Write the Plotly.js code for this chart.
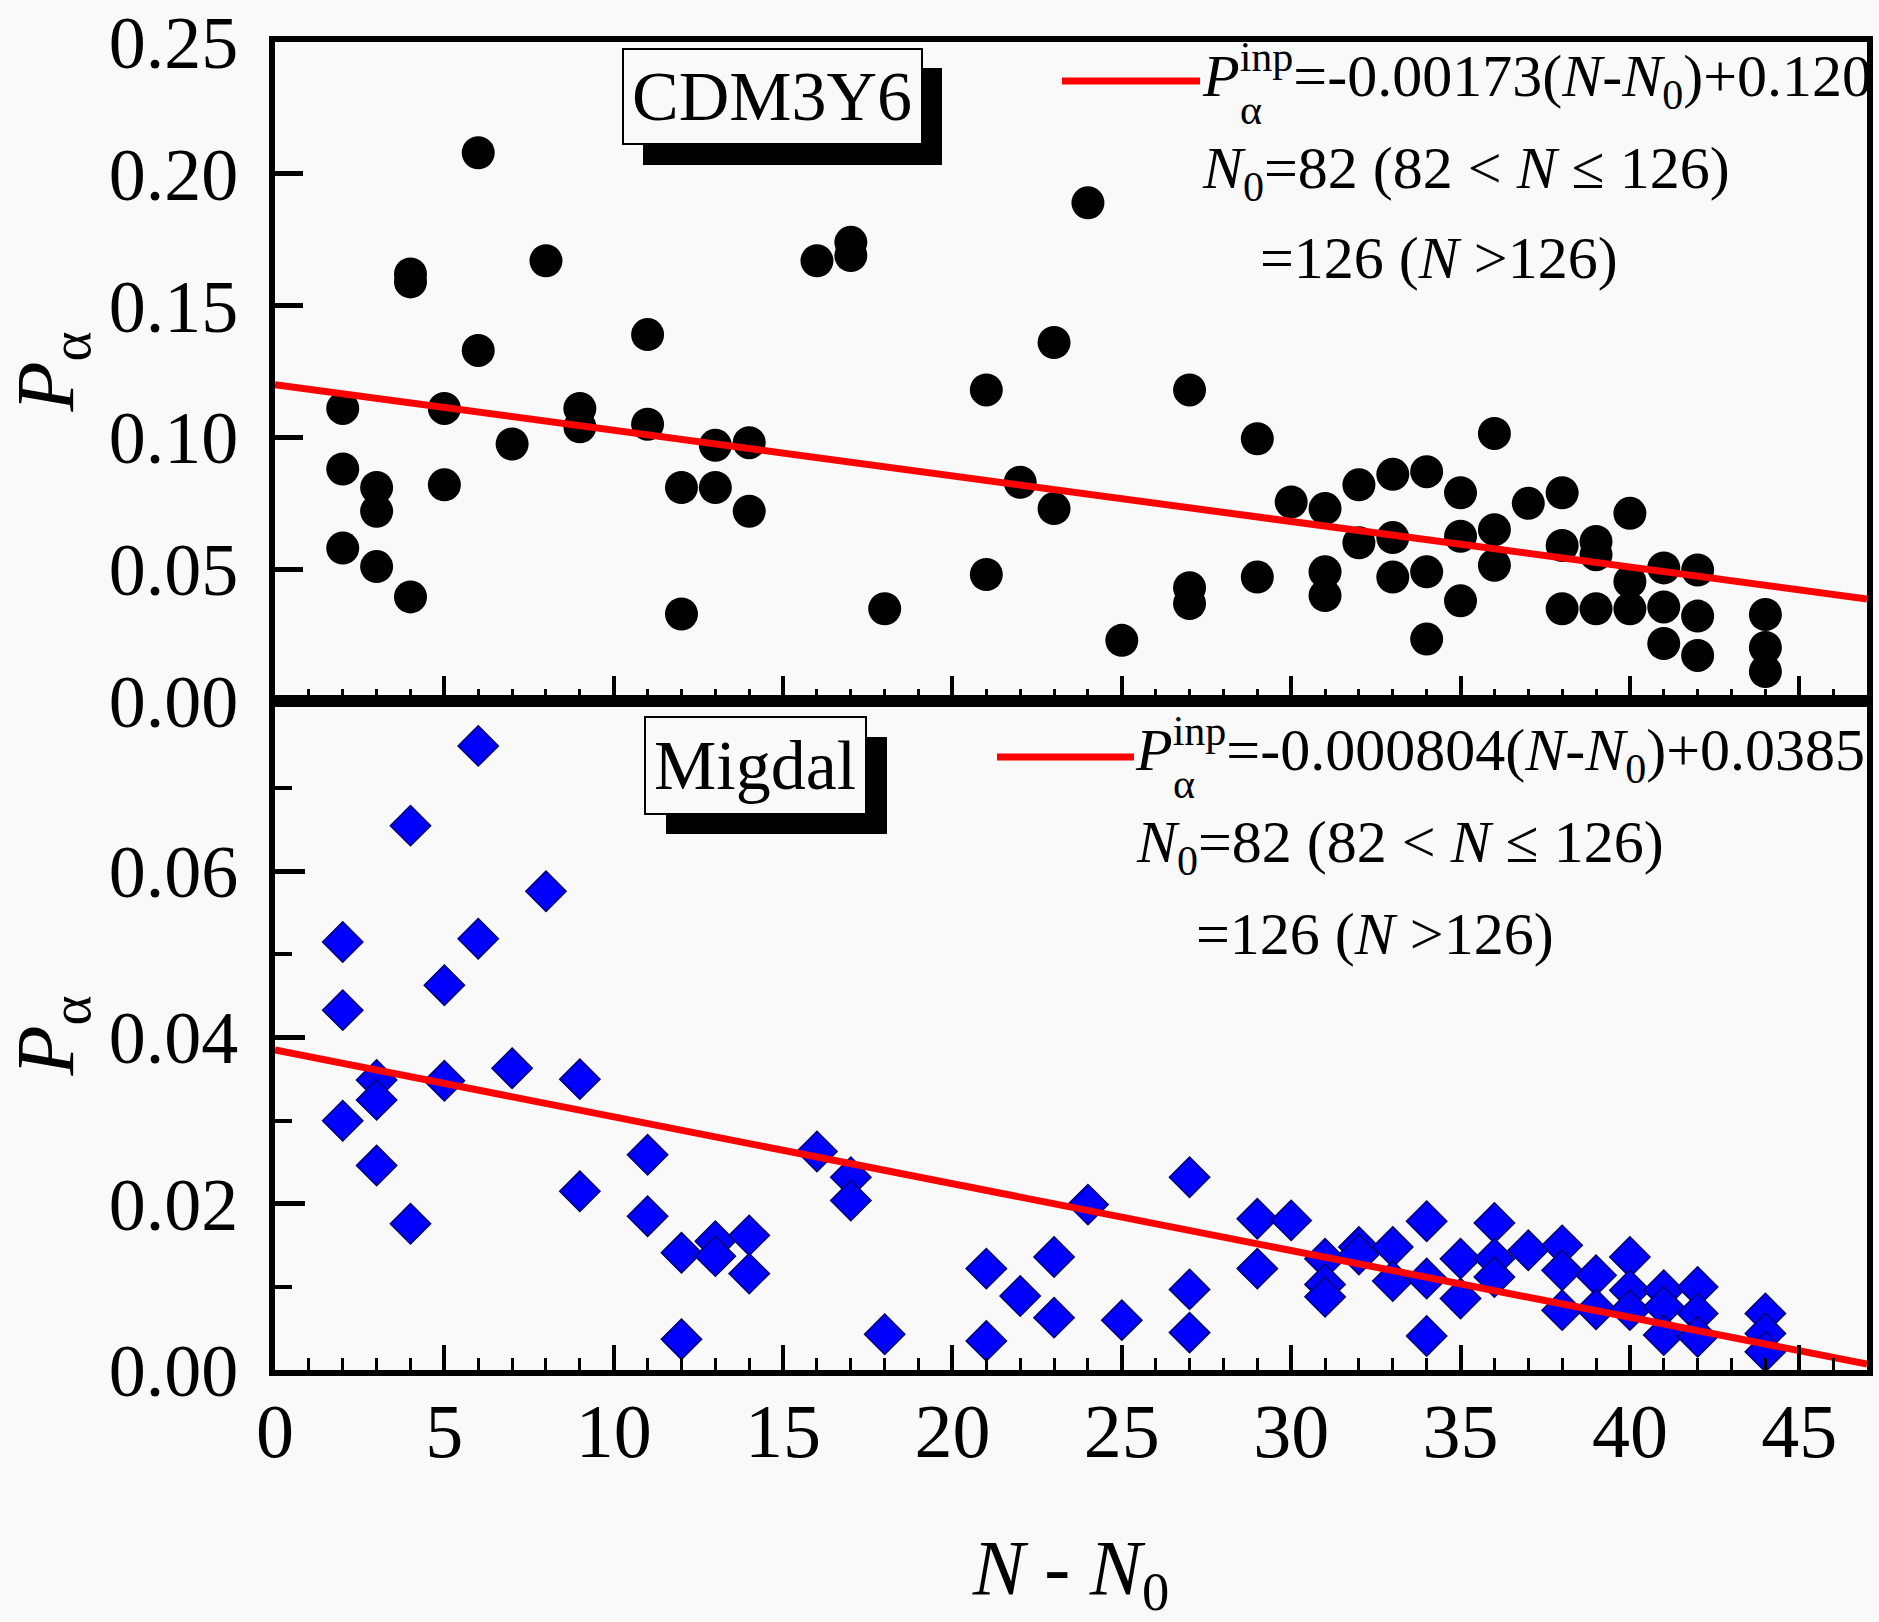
<!DOCTYPE html>
<html>
<head>
<meta charset="utf-8">
<script src="https://cdn.plot.ly/plotly-3.0.1.min.js"></script>
<style>
  html, body { margin: 0; padding: 0; background: #f9f9f9; }
  #chart { width: 1879px; height: 1622px; }
</style>
</head>
<body>
<div id="chart"></div>
<script>
// ---------------- data ----------------
// CDM3Y6 panel (top)
const cdmX = [2,2,2, 3,3,3, 4,4,4, 5,5, 6,6, 7, 8, 9,9, 11,11, 12,12, 13,13, 14,14, 16, 17,17, 18,
              21,21, 22, 23,23, 24, 25, 27,27,27, 29,29, 30, 31,31,31, 32,32, 33,33,33, 34,34,34,
              35,35,35, 36,36,36, 37, 38,38,38, 39,39,39, 40,40,40, 41,41,41, 42,42,42, 44,44,44];
const cdmY = [0.111,0.088,0.058, 0.081,0.072,0.051, 0.162,0.159,0.0395, 0.111,0.082, 0.208,0.133,
              0.0975, 0.167, 0.111,0.104, 0.139,0.105, 0.081,0.033, 0.097,0.081, 0.098,0.072, 0.167,
              0.174,0.169, 0.035, 0.118,0.048, 0.083, 0.136,0.073, 0.189, 0.023, 0.118,0.043,0.037,
              0.0995,0.047, 0.0755, 0.073,0.049,0.040, 0.082,0.060, 0.086,0.062,0.047, 0.087,0.049,0.0235,
              0.079,0.0625,0.038, 0.1015,0.065,0.0515, 0.075, 0.079,0.059,0.035, 0.0605,0.0555,0.035,
              0.0712,0.0453,0.035, 0.0505,0.0357,0.0218, 0.0497,0.0322,0.0173, 0.0328,0.0203,0.0112];
// Migdal panel (bottom)
const migX = [2,2,2, 3,3,3, 4,4, 5,5, 6,6, 7, 8, 9,9, 11,11, 12,12, 13,13, 14,14, 16, 17,17, 18,
              21,21, 22, 23,23, 24, 25, 27,27,27, 29,29, 30, 31,31,31, 32,32, 33,33, 34,34,34,
              35,35, 36,36,36, 37, 38,38,38, 39,39, 40,40,40, 41,41,41, 42,42,42, 44,44,44];
const migY = [0.0515,0.0433,0.0300, 0.0349,0.0325,0.0246, 0.0655,0.0176, 0.0463,0.0348, 0.0751,0.0519,
              0.0363, 0.0576, 0.0350,0.0215, 0.0259,0.0185, 0.0141,0.0037, 0.0155,0.0137, 0.0162,0.0116,
              0.0263, 0.0232,0.0204, 0.0043, 0.0122,0.0035, 0.0089, 0.0136,0.0063, 0.0199, 0.0060,
              0.0232,0.0097,0.0045, 0.0182,0.0122, 0.0180, 0.0134,0.0103,0.0088, 0.0148,0.0139,
              0.0148,0.0107, 0.0179,0.0110,0.0041, 0.0134,0.0086, 0.0177,0.0134,0.0112, 0.0144,
              0.0150,0.0120,0.0072, 0.0114,0.0073, 0.0136,0.0096,0.0072, 0.0096,0.0076,0.0042,
              0.0100,0.0068,0.0040, 0.0068,0.0044,0.0022];
// fitted lines (end points)
const fitX = [0, 47];
const cdmFitY = [0.120, 0.0387];
const migFitY = [0.0385, 0.00071];
// tick labels
const topYTicks = [0, 0.05, 0.10, 0.15, 0.20, 0.25];
const botYTicks = [0, 0.02, 0.04, 0.06];
const botYMinor = [0.01, 0.03, 0.05, 0.07];
// texts
const cdmLabel = 'CDM3Y6';
const migLabel = 'Migdal';
const cdmEq = '<i>P</i><sup>inp</sup>=-0.00173(<i>N</i>-<i>N</i><sub>0</sub>)+0.120';
const migEq = '<i>P</i><sup>inp</sup>=-0.000804(<i>N</i>-<i>N</i><sub>0</sub>)+0.0385';
const n0Line1 = '<i>N</i><sub>0</sub>=82 (82 &lt; <i>N</i> ≤ 126)';
const n0Line2 = '=126 (<i>N</i> &gt;126)';

// ---------------- geometry helpers ----------------
const W = 1879, H = 1622, L = 275, R = 12, T = 42, B = 252;
const PW = W - L - R, PH = H - T - B;
const px = v => (v - L) / PW;
const py = v => (H - B - v) / PH;
const MID = py(701);   // boundary between the two panels
const FONT = 'Liberation Serif, Times New Roman, serif';

const traces = [
  { x: cdmX, y: cdmY, xaxis: 'x', yaxis: 'y', type: 'scatter', mode: 'markers',
    marker: { symbol: 'circle', size: 33, color: '#000000', line: { width: 0 } }, showlegend: false },
  { x: fitX, y: cdmFitY, xaxis: 'x', yaxis: 'y', type: 'scatter', mode: 'lines',
    line: { color: '#ff0000', width: 7 }, showlegend: false },
  { x: migX, y: migY, xaxis: 'x2', yaxis: 'y2', type: 'scatter', mode: 'markers',
    marker: { symbol: 'diamond', size: 31, color: '#0000ff', line: { width: 1.5, color: '#000070' } }, showlegend: false },
  { x: fitX, y: migFitY, xaxis: 'x2', yaxis: 'y2', type: 'scatter', mode: 'lines',
    line: { color: '#ff0000', width: 7 }, showlegend: false }
];

const xCommon = {
  range: [0, 47], tick0: 0, dtick: 5, ticks: 'inside', ticklen: 25, tickwidth: 4, tickcolor: '#000',
  minor: { dtick: 1, tick0: 0, ticks: 'inside', ticklen: 12, tickwidth: 3, tickcolor: '#000' },
  showline: true, linewidth: 6, linecolor: '#000', mirror: true,
  showgrid: false, zeroline: false, fixedrange: true
};

const layout = {
  width: W, height: H,
  margin: { l: L, r: R, t: T, b: B, pad: 0 },
  paper_bgcolor: '#f9f9f9', plot_bgcolor: '#f9f9f9',
  font: { family: FONT, color: '#000', size: 60 },
  showlegend: false,
  xaxis: Object.assign({}, xCommon, { anchor: 'y', showticklabels: false }),
  xaxis2: Object.assign({}, xCommon, {
    anchor: 'y2', showticklabels: true, tickfont: { family: FONT, size: 76 }, ticklabelstandoff: -10,
    ticklabeloverflow: 'allow',
    title: { text: '<i>N</i> - <i>N</i><sub>0</sub>', font: { family: FONT, size: 78 }, standoff: 84 }
  }),
  yaxis: {
    domain: [MID, 1], anchor: 'x', range: [0, 0.25], tickmode: 'array', tickvals: topYTicks,
    tickformat: '.2f', ticks: 'inside', ticklen: 28, tickwidth: 5, tickcolor: '#000',
    tickfont: { family: FONT, size: 74 }, ticklabelstandoff: 16, ticklabeloverflow: 'allow',
    showline: true, linewidth: 6, linecolor: '#000', mirror: true, showgrid: false, zeroline: false,
    title: { text: '<i>P</i><sub>α</sub>', font: { family: FONT, size: 82 }, standoff: 58 }
  },
  yaxis2: {
    domain: [0, MID], anchor: 'x2', range: [0, 0.0805], tickmode: 'array', tickvals: botYTicks,
    tickformat: '.2f', ticks: 'inside', ticklen: 30, tickwidth: 5, tickcolor: '#000',
    minor: { tickmode: 'array', tickvals: botYMinor, ticks: 'inside', ticklen: 17, tickwidth: 4, tickcolor: '#000' },
    tickfont: { family: FONT, size: 74 }, ticklabelstandoff: 16, ticklabeloverflow: 'allow',
    showline: true, linewidth: 6, linecolor: '#000', mirror: true, showgrid: false, zeroline: false,
    title: { text: '<i>P</i><sub>α</sub>', font: { family: FONT, size: 82 }, standoff: 58 }
  },
  shapes: [
    // CDM3Y6 label box with shadow
    { type: 'rect', xref: 'paper', yref: 'paper', x0: px(643), x1: px(942), y0: py(165), y1: py(68),
      fillcolor: '#000', line: { width: 0 }, layer: 'above' },
    { type: 'rect', xref: 'paper', yref: 'paper', x0: px(623), x1: px(922), y0: py(144), y1: py(49),
      fillcolor: '#f9f9f9', line: { width: 2, color: '#000' }, layer: 'above' },
    // Migdal label box with shadow
    { type: 'rect', xref: 'paper', yref: 'paper', x0: px(666), x1: px(887), y0: py(834), y1: py(737),
      fillcolor: '#000', line: { width: 0 }, layer: 'above' },
    { type: 'rect', xref: 'paper', yref: 'paper', x0: px(645), x1: px(866), y0: py(814), y1: py(717),
      fillcolor: '#f9f9f9', line: { width: 2, color: '#000' }, layer: 'above' },
    // legend line samples
    { type: 'line', xref: 'paper', yref: 'paper', x0: px(1062), x1: px(1200), y0: py(81), y1: py(81),
      line: { color: '#ff0000', width: 7 }, layer: 'above' },
    { type: 'line', xref: 'paper', yref: 'paper', x0: px(997), x1: px(1134), y0: py(757), y1: py(757),
      line: { color: '#ff0000', width: 7 }, layer: 'above' }
  ],
  annotations: [
    { text: cdmLabel, xref: 'paper', yref: 'paper', x: px(772), y: py(97), xanchor: 'center', yanchor: 'middle',
      showarrow: false, font: { family: FONT, size: 70 } },
    { text: migLabel, xref: 'paper', yref: 'paper', x: px(755), y: py(765), xanchor: 'center', yanchor: 'middle',
      showarrow: false, font: { family: FONT, size: 70 } },
    // top equation
    { text: cdmEq, xref: 'paper', yref: 'paper', x: px(1200), y: py(76), xanchor: 'left', yanchor: 'middle',
      showarrow: false, font: { family: FONT, size: 60 } },
    { text: 'α', xref: 'paper', yref: 'paper', x: px(1238), y: py(110), xanchor: 'left', yanchor: 'middle',
      showarrow: false, font: { family: FONT, size: 42 } },
    { text: n0Line1, xref: 'paper', yref: 'paper', x: px(1200), y: py(172), xanchor: 'left', yanchor: 'middle',
      showarrow: false, font: { family: FONT, size: 60 } },
    { text: n0Line2, xref: 'paper', yref: 'paper', x: px(1258), y: py(258), xanchor: 'left', yanchor: 'middle',
      showarrow: false, font: { family: FONT, size: 60 } },
    // bottom equation
    { text: migEq, xref: 'paper', yref: 'paper', x: px(1133), y: py(750), xanchor: 'left', yanchor: 'middle',
      showarrow: false, font: { family: FONT, size: 60 } },
    { text: 'α', xref: 'paper', yref: 'paper', x: px(1171), y: py(784), xanchor: 'left', yanchor: 'middle',
      showarrow: false, font: { family: FONT, size: 42 } },
    { text: n0Line1, xref: 'paper', yref: 'paper', x: px(1134), y: py(846), xanchor: 'left', yanchor: 'middle',
      showarrow: false, font: { family: FONT, size: 60 } },
    { text: n0Line2, xref: 'paper', yref: 'paper', x: px(1194), y: py(934), xanchor: 'left', yanchor: 'middle',
      showarrow: false, font: { family: FONT, size: 60 } }
  ]
};

Plotly.newPlot('chart', traces, layout, { staticPlot: true, displayModeBar: false });
</script>
</body>
</html>
